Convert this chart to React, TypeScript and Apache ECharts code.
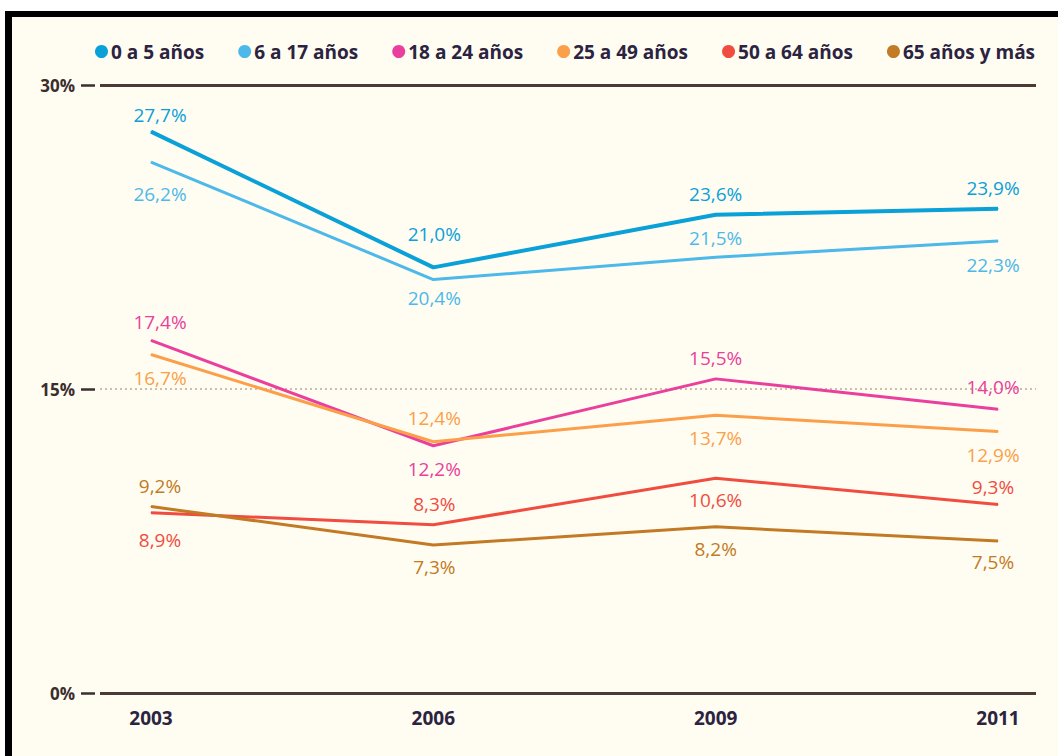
import React, { useEffect, useRef } from "react";
import * as echarts from "echarts";

const years = ["2003", "2006", "2009", "2011"];
const yTicks = [0, 15, 30];
const seriesNames = ["0 a 5 años", "6 a 17 años", "18 a 24 años", "25 a 49 años", "50 a 64 años", "65 años y más"];
const age0to5 = [27.7, 21.0, 23.6, 23.9];
const age6to17 = [26.2, 20.4, 21.5, 22.3];
const age18to24 = [17.4, 12.2, 15.5, 14.0];
const age25to49 = [16.7, 12.4, 13.7, 12.9];
const age50to64 = [8.9, 8.3, 10.6, 9.3];
const age65plus = [9.2, 7.3, 8.2, 7.5];

const colors = ["#0aa0d8", "#4db8ea", "#ea3f9c", "#fb9f4a", "#f04c3f", "#c27a24"];
const widths = [4, 3, 3, 3, 3, 3];
// vertical label offsets (label centre relative to the point)
const labelDy = [
  [-17, -33, -21, -21],
  [32, 18, -19, 24],
  [-18, 23, -21, -22],
  [23, -24, 23, 23],
  [27, -21, 22, -18],
  [-21, 22, 22, 21],
];
const labelDx = [9, 1, 0, -5];

const fmt = (v: number) => v.toFixed(1).replace(".", ",") + "%";

export default function App() {
  const ref = useRef<HTMLDivElement>(null);
  useEffect(() => {
    if (!ref.current) return;
    const chart = echarts.init(ref.current, undefined, { renderer: "svg" });
    const all = [age0to5, age6to17, age18to24, age25to49, age50to64, age65plus];
    const font = "'Open Sans', sans-serif";
    const series: any[] = all.map((vals, s) => ({
      name: seriesNames[s],
      type: "line",
      xAxisIndex: 1,
      yAxisIndex: 2,
      data: vals.map((v, i) => ({
        value: v,
        label: { offset: [labelDx[i], labelDy[s][i]] },
      })),
      showSymbol: true,
      symbol: "circle",
      symbolSize: 1,
      itemStyle: { color: colors[s] },
      lineStyle: { color: colors[s], width: widths[s] },
      label: {
        show: true,
        position: "inside",
        formatter: (p: any) => fmt(p.value),
        color: colors[s],
        fontFamily: font,
        fontSize: 19,
      },
      z: 3,
    }));
    chart.setOption({
      animation: false,
      backgroundColor: "transparent",
      color: colors,
      legend: {
        data: seriesNames,
        left: 90,
        top: 37,
        icon: "circle",
        itemWidth: 13,
        itemHeight: 13,
        itemGap: 34,
        textStyle: { color: "#2b2340", fontSize: 19, fontWeight: "bold", fontFamily: font, padding: [0, 0, 0, -2] },
      },
      grid: [
        { left: 100, right: 22, top: 85, bottom: 63 },
        { left: 151, right: 60, top: 85, bottom: 63 },
      ],
      xAxis: [
        { gridIndex: 0, type: "category", data: years, show: false },
        {
          gridIndex: 1,
          type: "category",
          data: years,
          boundaryGap: false,
          axisLine: { show: false },
          axisTick: { show: false },
          axisLabel: {
            margin: 15,
            color: "#2b2340",
            fontSize: 19,
            fontWeight: "bold",
            fontFamily: font,
          },
        },
      ],
      yAxis: [
        {
          gridIndex: 0,
          type: "value",
          min: yTicks[0],
          max: yTicks[2],
          interval: yTicks[1],
          offset: 5,
          axisLine: { show: false },
          axisTick: { show: true, length: 14, lineStyle: { color: "#3b2d2d", width: 2.5 } },
          axisLabel: {
            margin: 20,
            formatter: (v: number) => v + "%",
            color: "#3b2d2d",
            fontSize: 17,
            fontWeight: "bold",
            fontFamily: font,
          },
          splitLine: { show: true, lineStyle: { color: "#b9a995", type: [2, 3], width: 1.5 } },
        },
        {
          gridIndex: 0,
          type: "value",
          min: yTicks[0],
          max: yTicks[2],
          interval: yTicks[2],
          axisLine: { show: false },
          axisTick: { show: false },
          axisLabel: { show: false },
          splitLine: { show: true, lineStyle: { color: "#4a3a3a", width: 3 } },
        },
        { gridIndex: 1, type: "value", min: yTicks[0], max: yTicks[2], show: false, splitLine: { show: false } },
      ],
      series,
    });
    return () => chart.dispose();
  }, []);
  return (
    <div style={{ position: "absolute", left: 0, top: 0, width: 1058, height: 756, background: "#ffffff", overflow: "hidden" }}>
      <div
        style={{
          position: "absolute",
          left: 5,
          top: 11,
          width: 1060,
          height: 760,
          borderTop: "6px solid #000",
          borderLeft: "7px solid #000",
          background: "#fffdf2",
        }}
      />
      <div ref={ref} style={{ position: "absolute", left: 0, top: 0, width: 1058, height: 756 }} />
    </div>
  );
}
